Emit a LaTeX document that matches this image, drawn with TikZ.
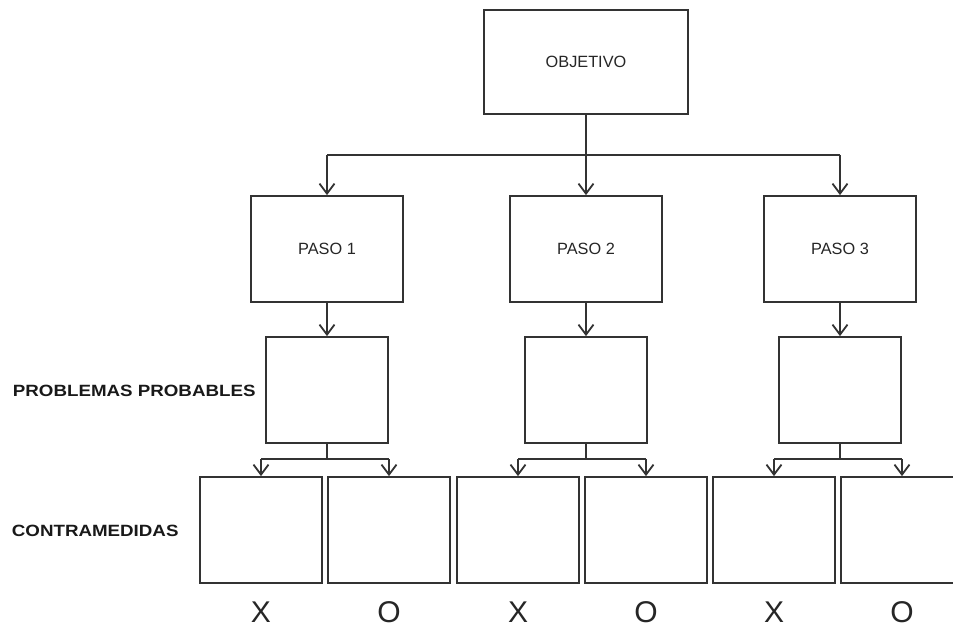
\documentclass[tikz,border=0pt]{standalone}
\usepackage{fontspec}
\setmainfont{Liberation Sans}
\usetikzlibrary{arrows.meta}
\begin{document}
\begin{tikzpicture}[x=1pt,y=-1pt,
  line width=1.8pt, draw=black!80,
  box/.style={draw=black!80, line width=1.8pt, rectangle, inner sep=0pt,
    font=\fontsize{16.3}{18}\selectfont, text=black!85},
  pasobox/.style={box, minimum width=152pt, minimum height=106pt},
  probbox/.style={box, minimum width=122pt, minimum height=106pt},
  cmbox/.style={box, minimum width=122pt, minimum height=106pt},
  arr/.style={-{Straight Barb[length=10pt,width=15pt]}},
  sidelabel/.style={anchor=west, inner sep=0pt, font=\fontsize{16.3}{18}\selectfont\bfseries, text=black!90},
  outcome/.style={inner sep=0pt, font=\fontsize{30}{32}\selectfont, text=black!85}]
\clip (0,0) rectangle (953,628);
\fill[white] (0,0) rectangle (953,628);

% objective
\node[box, minimum width=204pt, minimum height=104pt] (obj) at (586,62) {OBJETIVO};

% steps
\node[pasobox] (p1) at (327,249) {PASO 1};
\node[pasobox] (p2) at (586,249) {PASO 2};
\node[pasobox] (p3) at (840,249) {PASO 3};

% probable problems
\node[probbox] (q1) at (327,390) {};
\node[probbox] (q2) at (586,390) {};
\node[probbox] (q3) at (840,390) {};

% countermeasures
\node[cmbox] (c1) at (261,530) {};
\node[cmbox] (c2) at (389,530) {};
\node[cmbox] (c3) at (518,530) {};
\node[cmbox] (c4) at (646,530) {};
\node[cmbox] (c5) at (774,530) {};
\node[cmbox] (c6) at (902,530) {};

% distribution bus from the objective
\coordinate (j1) at (327,155);
\coordinate (j2) at (586,155);
\coordinate (j3) at (840,155);
\draw (obj.south) -- (j2);
\draw (j1) -- (j3);
\draw[arr] (j1) -- (p1);
\draw[arr] (j2) -- (p2);
\draw[arr] (j3) -- (p3);

% step to problem
\draw[arr] (p1) -- (q1);
\draw[arr] (p2) -- (q2);
\draw[arr] (p3) -- (q3);

% problem to countermeasure pairs
\coordinate (b1) at (327,459);
\coordinate (b1l) at (261,459);
\coordinate (b1r) at (389,459);
\coordinate (b2) at (586,459);
\coordinate (b2l) at (518,459);
\coordinate (b2r) at (646,459);
\coordinate (b3) at (840,459);
\coordinate (b3l) at (774,459);
\coordinate (b3r) at (902,459);
\draw (q1.south) -- (b1);
\draw (q2.south) -- (b2);
\draw (q3.south) -- (b3);
\draw (b1l) -- (b1r);
\draw (b2l) -- (b2r);
\draw (b3l) -- (b3r);
\draw[arr] (b1l) -- (c1);
\draw[arr] (b1r) -- (c2);
\draw[arr] (b2l) -- (c3);
\draw[arr] (b2r) -- (c4);
\draw[arr] (b3l) -- (c5);
\draw[arr] (b3r) -- (c6);

% row labels
\node[sidelabel] (lp) at (12,391) {\scalebox{1.15}[1]{PROBLEMAS PROBABLES}};
\node[sidelabel] (lc) at (11,530.5) {\scalebox{1.15}[1]{CONTRAMEDIDAS}};

% outcome marks
\node[outcome] (m1) at (c1.center |- 0,612) {X};
\node[outcome] (m2) at (c2.center |- 0,612) {O};
\node[outcome] (m3) at (c3.center |- 0,612) {X};
\node[outcome] (m4) at (c4.center |- 0,612) {O};
\node[outcome] (m5) at (c5.center |- 0,612) {X};
\node[outcome] (m6) at (c6.center |- 0,612) {O};
\end{tikzpicture}
\end{document}
